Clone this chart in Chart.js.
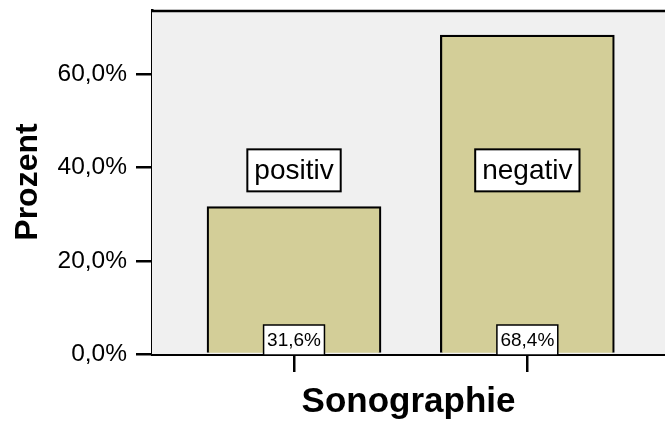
<!DOCTYPE html>
<html>
<head>
<meta charset="utf-8">
<script src="https://cdn.jsdelivr.net/npm/chart.js@4"></script>
<style>
  html, body { margin: 0; padding: 0; background: #ffffff; }
  #wrap { width: 665px; height: 421px; }
</style>
</head>
<body>
<div id="wrap"><canvas id="c" width="665" height="421"></canvas></div>
<script>
// Sonographie results as percentage of cases
const categories = ['positiv', 'negativ'];
const percentages = [31.6, 68.4];
const yTicks = [0, 20, 40, 60];

const FONT = "'Liberation Sans', Arial, Helvetica, sans-serif";
const fmtPct = v => v.toFixed(1).replace('.', ',') + '%';

// Plot background, top frame line, and boxed labels
const boxLabels = {
  id: 'boxLabels',
  beforeDatasetsDraw(chart) {
    const { ctx, chartArea: a } = chart;
    ctx.save();
    ctx.fillStyle = '#f0f0f0';
    ctx.fillRect(a.left, a.top, a.right - a.left, a.bottom - a.top);
    ctx.strokeStyle = '#000';
    ctx.lineWidth = 2.5;
    ctx.beginPath();
    ctx.moveTo(a.left - 1, a.top + 1);
    ctx.lineTo(a.right + 2, a.top + 1);
    ctx.stroke();
    ctx.restore();
  },
  afterDatasetsDraw(chart) {
    const { ctx } = chart;
    const xs = chart.scales.x, ys = chart.scales.y;
    const box = (text, cx, cy, size, padX, h, lw) => {
      ctx.font = size + 'px ' + FONT;
      const w = ctx.measureText(text).width + padX * 2;
      ctx.fillStyle = '#fff';
      ctx.fillRect(cx - w / 2, cy - h / 2, w, h);
      ctx.strokeStyle = '#000';
      ctx.lineWidth = lw;
      ctx.strokeRect(cx - w / 2, cy - h / 2, w, h);
      ctx.fillStyle = '#000';
      ctx.textAlign = 'center';
      ctx.textBaseline = 'middle';
      ctx.fillText(text, cx, cy + 1);
    };
    ctx.save();
    categories.forEach((name, i) => {
      const cx = xs.getPixelForValue(i);
      box(name, cx, ys.getPixelForValue(39.4), 28, 7, 42, 2);
      box(fmtPct(percentages[i]), cx, ys.bottom - 14, 19, 3.5, 30, 1.5);
    });
    ctx.restore();
  }
};

new Chart(document.getElementById('c'), {
  type: 'bar',
  data: {
    datasets: [{
      data: categories.map((c, i) => ({ x: i, y: percentages[i] })),
      backgroundColor: '#d3ce98',
      borderColor: '#000',
      borderWidth: 2.2,
      borderSkipped: 'start',
      barThickness: 174
    }]
  },
  options: {
    responsive: false,
    animation: false,
    layout: { padding: { top: 10, left: 0, right: 0, bottom: 0 } },
    plugins: { legend: { display: false }, tooltip: { enabled: false } },
    scales: {
      x: {
        type: 'linear',
        offset: false,
        min: -0.6087,
        max: 1.59,
        afterBuildTicks: s => { s.ticks = categories.map((c, i) => ({ value: i })); },
        afterFit: s => { s.height = 67; s.paddingLeft = 0; s.paddingRight = 0; },
        ticks: { callback: () => '', font: { family: FONT, size: 12 } },
        grid: { offset: false, drawOnChartArea: false, drawTicks: true, tickLength: 18, color: '#000', lineWidth: 2.5 },
        border: { display: true, color: '#000', width: 3 },
        title: {
          display: true,
          text: 'Sonographie',
          color: '#000',
          font: { family: FONT, size: 35, weight: 'bold' },
          padding: { top: 0, bottom: -2 }
        }
      },
      y: {
        min: 0,
        max: 73.8,
        afterBuildTicks: s => { s.ticks = yTicks.map(v => ({ value: v })); },
        afterFit: s => { s.width = 152; s.paddingTop = 0; s.paddingBottom = 0; },
        ticks: {
          callback: v => fmtPct(v),
          color: '#000',
          padding: 9,
          font: { family: FONT, size: 24.5 }
        },
        grid: { drawOnChartArea: false, drawTicks: true, tickLength: 16, color: '#000', lineWidth: 2.5 },
        border: { display: true, color: '#000', width: 2.5 },
        title: {
          display: true,
          text: 'Prozent',
          color: '#000',
          font: { family: FONT, size: 32, weight: 'bold' },
          padding: { top: 9, bottom: 0 }
        }
      }
    }
  },
  plugins: [boxLabels]
});
</script>
</body>
</html>
